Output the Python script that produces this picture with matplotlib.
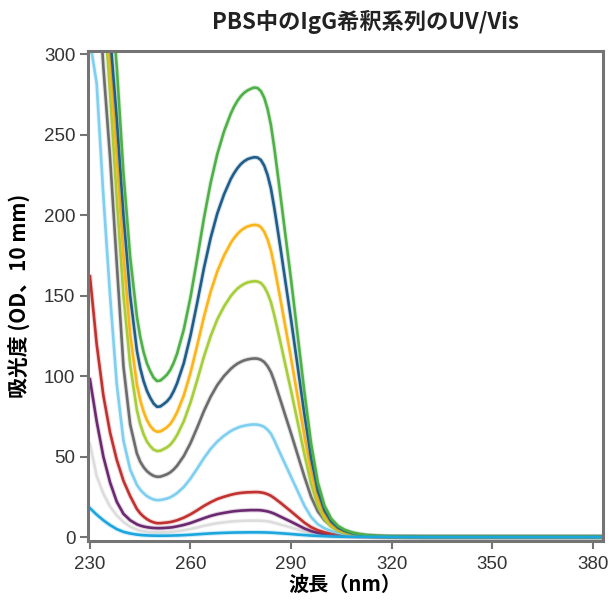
import matplotlib
matplotlib.use("Agg")
import matplotlib.pyplot as plt

plt.rcParams['font.family'] = ['Noto Sans CJK JP', 'DejaVu Sans']

# wavelength (nm) - finer steps around the minimum and the 280 nm peak
wl = [230, 232, 234, 236, 238, 240, 242,
      244, 245, 246, 247, 248, 249, 250, 251, 252, 253, 254, 255, 256,
      258, 260, 262, 264, 266, 268, 270,
      272, 273, 274, 275, 276, 277, 278, 279, 280, 281, 282, 283, 284,
      285, 286, 287, 288,
      290, 292, 294, 296, 298, 300, 302, 304, 306, 308, 310, 312,
      315, 320, 330, 340, 350, 360, 370, 380, 383]

# absorbance (OD, 10 mm) of each dilution
green = [520, 460, 400, 345, 292, 226, 174,
         137, 124.4, 115, 108, 103, 99.1, 97, 97.3, 99, 101, 104, 108.4, 114,
         129, 149, 173, 198, 220, 238, 252,
         263, 267.4, 271, 273.9, 276, 277.5, 278.5, 279.3, 279, 277.1, 273, 266, 256,
         242, 226, 209.7, 193,
         160, 125, 90, 58, 34, 19.5, 11.5, 7, 4.6, 3.1, 2.1, 1.4,
         0.8, 0.4, 0.2, 0.2, 0.2, 0.2, 0.2, 0.2, 0.2]
blue = [480, 420, 365, 312, 260, 200, 150,
        116, 105, 97, 90.9, 86.5, 83, 81, 81.2, 82.7, 84.4, 86.9, 90.8, 95.6,
        108.1, 125.2, 145.6, 167, 185.8, 201.1, 212.9,
        222.4, 226.1, 229.2, 231.7, 233.5, 234.8, 235.5, 236, 235.8, 234.3, 230.8, 224.9, 216.6,
        204.6, 191.2, 177.5, 163.3,
        135.2, 105.7, 76.2, 49.1, 28.8, 16.5, 9.7, 5.9, 3.9, 2.6, 1.8, 1.2,
        0.7, 0.35, 0.2, 0.2, 0.2, 0.2, 0.2, 0.2, 0.2]
orange = [470, 410, 350, 295, 236, 174, 126,
          95, 85.1, 78, 72.7, 69, 66.6, 65.5, 65.7, 66.9, 68.3, 70.4, 73.6, 77.6,
          88, 102.1, 119.1, 136.8, 152.4, 165.1, 174.9,
          182.7, 185.8, 188.3, 190.4, 191.9, 193, 193.6, 194, 193.8, 192.6, 189.7, 184.9, 178.1,
          168.2, 157.1, 145.9, 134.2,
          111.2, 86.9, 62.7, 40.4, 23.7, 13.6, 8, 4.9, 3.2, 2.1, 1.5, 1,
          0.6, 0.3, 0.2, 0.2, 0.2, 0.2, 0.2, 0.2, 0.2]
yellowgreen = [460, 400, 335, 276, 210, 150, 107,
               79, 70.2, 64, 59.4, 56.5, 54.4, 53.5, 53.7, 54.7, 55.8, 57.5, 60.1, 63.4,
               72, 83.6, 97.5, 112.1, 124.8, 135.3, 143.3,
               149.7, 152.2, 154.4, 156, 157.3, 158.2, 158.7, 159, 158.8, 157.9, 155.5, 151.5, 146,
               137.9, 128.8, 119.6, 110,
               91.1, 71.2, 51.4, 33.1, 19.4, 11.1, 6.5, 4, 2.6, 1.7, 1.2, 0.8,
               0.5, 0.25, 0.2, 0.2, 0.2, 0.2, 0.2, 0.2, 0.2]
gray = [430, 360, 292, 236, 170, 106, 70,
        52, 46.9, 43.5, 41, 39.3, 38.1, 37.5, 37.6, 38.3, 39.1, 40.3, 42.1, 44.4,
        50.4, 58.4, 68.1, 78.3, 87.2, 94.5, 100.1,
        104.5, 106.3, 107.8, 108.9, 109.8, 110.4, 110.8, 111, 110.9, 110.2, 108.8, 106.2, 102.5,
        97, 90.5, 84.1, 77.5,
        64.5, 51, 37.5, 25, 16, 10.5, 7, 4.6, 3.1, 2.1, 1.4, 1,
        0.6, 0.3, 0.2, 0.2, 0.2, 0.2, 0.2, 0.2, 0.2]
lightblue = [308, 282, 212, 150, 95, 60, 42,
             32.5, 29.5, 27.3, 25.5, 24.3, 23.4, 23, 23.1, 23.5, 24, 24.8, 26, 27.4,
             31.2, 36.4, 42.6, 49.1, 54.8, 59.4, 63,
             65.9, 67, 67.9, 68.7, 69.2, 69.6, 69.9, 70, 69.9, 69.4, 68.5, 66.7, 64.3,
             60.2, 55.5, 51, 46.5,
             37.5, 28.5, 19.5, 12.5, 8, 5.5, 3.8, 2.7, 1.9, 1.3, 0.9, 0.6,
             0.4, 0.2, 0.1, 0.1, 0.1, 0.1, 0.1, 0.1, 0.1]
red = [162, 120, 88, 65, 48, 35, 25.5,
       17.5, 14.8, 12.8, 11.2, 10, 9.2, 8.7, 8.7, 8.9, 9.1, 9.4, 9.9, 10.5,
       12.1, 14.2, 16.7, 19.4, 21.7, 23.7, 25.1,
       26.3, 26.8, 27.2, 27.5, 27.7, 27.85, 27.9, 28, 28, 27.8, 27.4, 26.7, 25.7,
       24.3, 22.7, 21.1, 19.4,
       16, 12.5, 9, 6.2, 4.3, 3, 2.1, 1.5, 1.1, 0.8, 0.6, 0.4,
       0.3, 0.15, 0.1, 0.1, 0.1, 0.1, 0.1, 0.1, 0.1]
purple = [98, 72, 50, 34, 22, 14.5, 10.5,
          8, 7.2, 6.6, 6.2, 5.9, 5.7, 5.6, 5.6, 5.7, 5.85, 6, 6.3, 6.7,
          7.6, 8.8, 10.3, 11.8, 13.2, 14.3, 15.1,
          15.8, 16.1, 16.3, 16.5, 16.6, 16.7, 16.8, 16.8, 16.8, 16.7, 16.4, 16, 15.4,
          14.6, 13.6, 12.6, 11.6,
          9.6, 7.5, 5.4, 3.8, 2.7, 1.9, 1.3, 0.9, 0.7, 0.5, 0.4, 0.3,
          0.2, 0.1, 0.05, 0.05, 0.05, 0.05, 0.05, 0.05, 0.05]
lightgray = [58, 38, 27, 19, 13.5, 9.5, 6.5,
             4.7, 4.15, 3.7, 3.4, 3.2, 3.05, 3, 3, 3.1, 3.15, 3.3, 3.45, 3.7,
             4.3, 5.1, 6, 7.1, 7.9, 8.7, 9.2,
             9.7, 9.85, 10, 10.1, 10.2, 10.25, 10.3, 10.3, 10.3, 10.2, 10.1, 9.8, 9.5,
             8.9, 8.4, 7.7, 7.2,
             6, 4.7, 3.5, 2.5, 1.8, 1.3, 0.9, 0.6, 0.45, 0.35, 0.25, 0.2,
             0.15, 0.1, 0.05, 0.05, 0.05, 0.05, 0.05, 0.05, 0.05]
cyan = [18, 14, 10.5, 7.5, 5, 3.3, 2.3,
        1.6, 1.4, 1.2, 1.1, 1, 0.95, 0.9, 0.9, 0.92, 0.95, 0.98, 1.04, 1.1,
        1.27, 1.5, 1.78, 2.07, 2.32, 2.53, 2.69,
        2.82, 2.87, 2.91, 2.94, 2.96, 2.98, 2.99, 3, 3, 2.98, 2.95, 2.88, 2.8,
        2.68, 2.55, 2.4, 2.25,
        1.95, 1.6, 1.3, 1, 0.8, 0.6, 0.45, 0.35, 0.3, 0.25, 0.2, 0.2,
        0.15, 0.1, 0.05, 0.05, 0.05, 0.05, 0.05, 0.05, 0.05]

series = [
    (lightgray, "#dddddd"),
    (purple, "#6b2a70"),
    (red, "#c1312f"),
    (lightblue, "#7ecff0"),
    (gray, "#6c6c6e"),
    (yellowgreen, "#a6cd3a"),
    (orange, "#fbb51a"),
    (blue, "#1f5d8a"),
    (green, "#4fb048"),
    (cyan, "#1ba6de"),
]

fig = plt.figure(figsize=(6.15, 6.0), dpi=100)
ax = fig.add_axes([0.143, 0.098, 0.837, 0.817])

for vals, col in series:
    # faint halo stands in for the replicate traces
    ax.plot(wl, vals, color=col, lw=3.4, alpha=0.2)
    ax.plot(wl, vals, color=col, lw=1.9)

ax.set_xlim(229.4, 383.0)
ax.set_ylim(-2.5, 302)
ax.set_xticks([230, 260, 290, 320, 350, 380])
ax.set_yticks([0, 50, 100, 150, 200, 250, 300])

for s in ax.spines.values():
    s.set_color("#747474")
    s.set_linewidth(2.2)
ax.tick_params(direction="out", length=6, width=1.5, color="#747474",
               labelsize=13.5, labelcolor="#333333", pad=3)
ax.tick_params(axis="x", pad=5)
for lab in ax.get_xticklabels() + ax.get_yticklabels():
    lab.set_fontfamily("Liberation Sans")

ax.set_xlabel("波長（nm）", fontsize=14.5, fontweight="bold", labelpad=0)
ax.set_ylabel("吸光度 (OD、10 mm)", fontsize=15, fontweight="bold", labelpad=9)
fig.text(0.595, 0.964, "PBS中のIgG希釈系列のUV/Vis", fontsize=16,
         fontweight="bold", ha="center", va="center", color="#222222")

fig.savefig("out.png", dpi=100)
